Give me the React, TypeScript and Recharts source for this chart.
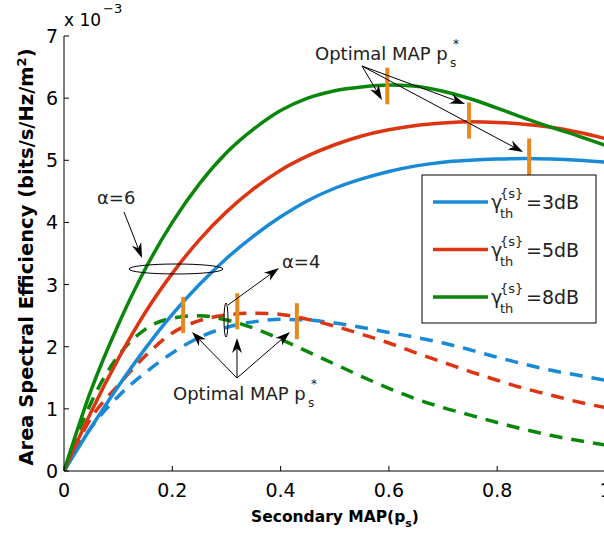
import React from "react";
import { LineChart, Line, XAxis, YAxis, ReferenceLine } from "recharts";

// secondary MAP p_s
const ps = [0, 0.05, 0.1, 0.15, 0.2, 0.25, 0.3, 0.35, 0.4, 0.45, 0.5, 0.55, 0.6, 0.65, 0.7, 0.75, 0.8, 0.85, 0.9, 0.95, 1];

// alpha = 6 (solid), x 1e-3
const solid3dB = [0, 0.7, 1.36, 1.97, 2.52, 3.0, 3.42, 3.78, 4.09, 4.35, 4.55, 4.7, 4.82, 4.91, 4.97, 5.0, 5.02, 5.03, 5.02, 5.0, 4.97];
const solid5dB = [0, 0.95, 1.8, 2.55, 3.18, 3.72, 4.17, 4.54, 4.84, 5.07, 5.25, 5.39, 5.49, 5.56, 5.6, 5.62, 5.61, 5.58, 5.53, 5.45, 5.35];
const solid8dB = [0, 1.3, 2.35, 3.25, 4.0, 4.62, 5.12, 5.5, 5.8, 6.0, 6.12, 6.18, 6.21, 6.19, 6.11, 5.99, 5.84, 5.68, 5.53, 5.39, 5.24];

// alpha = 4 (dashed)
const dash3dB = [0, 0.7, 1.2, 1.58, 1.9, 2.15, 2.31, 2.4, 2.44, 2.43, 2.38, 2.31, 2.23, 2.15, 2.06, 1.95, 1.83, 1.72, 1.62, 1.54, 1.46];
const dash5dB = [0, 0.85, 1.38, 1.85, 2.22, 2.42, 2.51, 2.54, 2.52, 2.44, 2.33, 2.2, 2.06, 1.9, 1.75, 1.6, 1.46, 1.33, 1.22, 1.11, 1.02];
const dash8dB = [0, 1.1, 1.85, 2.28, 2.46, 2.5, 2.43, 2.3, 2.12, 1.92, 1.72, 1.52, 1.33, 1.16, 1.02, 0.9, 0.78, 0.67, 0.57, 0.49, 0.42];

const xTicks = [0, 0.2, 0.4, 0.6, 0.8, 1];
const yTicks = [0, 1, 2, 3, 4, 5, 6, 7];

// optimal p_s markers
const optX = [0.597, 0.748, 0.859, 0.22, 0.32, 0.43];
const optLo = [5.9, 5.35, 4.76, 2.22, 2.28, 2.12];
const optHi = [6.49, 5.93, 5.35, 2.8, 2.86, 2.7];

const legendNames = ["3dB", "5dB", "8dB"];
const colors = ["#1a8ad6", "#dd3512", "#0a870a"];

const rows = ps.map((p, i) => ({
  p,
  s3: solid3dB[i],
  s5: solid5dB[i],
  s8: solid8dB[i],
  d3: dash3dB[i],
  d5: dash5dB[i],
  d8: dash8dB[i],
}));

const FONT = "'DejaVu Sans', sans-serif";

const BottomTick = ({ x, y, payload }: any) => (
  <g>
    <line x1={x} y1={y} x2={x} y2={y - 5} stroke="#000" />
    <text x={x} y={y + 26} textAnchor="middle" fontSize={19} fontFamily={FONT} fill="#000">
      {String(payload.value)}
    </text>
  </g>
);
const TopTick = ({ x, y }: any) => <line x1={x} y1={y} x2={x} y2={y + 5} stroke="#000" />;
const LeftTick = ({ x, y, payload }: any) => (
  <g>
    <line x1={x} y1={y} x2={x + 5} y2={y} stroke="#000" />
    <text x={x - 6} y={y + 7} textAnchor="end" fontSize={19} fontFamily={FONT} fill="#000">
      {String(payload.value)}
    </text>
  </g>
);
const RightTick = ({ x, y }: any) => <line x1={x} y1={y} x2={x - 5} y2={y} stroke="#000" />;

function Arrow({ x1, y1, x2, y2 }: { x1: number; y1: number; x2: number; y2: number }) {
  const dx = x2 - x1;
  const dy = y2 - y1;
  const L = Math.hypot(dx, dy);
  const ux = dx / L;
  const uy = dy / L;
  const len = 15;
  const w = 5;
  const bx = x2 - ux * len;
  const by = y2 - uy * len;
  const nx = x2 - ux * len * 0.7;
  const ny = y2 - uy * len * 0.7;
  const pts = `${x2},${y2} ${bx - uy * w},${by + ux * w} ${nx},${ny} ${bx + uy * w},${by - ux * w}`;
  return (
    <g>
      <line x1={x1} y1={y1} x2={nx} y2={ny} stroke="#000" strokeWidth={1} />
      <polygon points={pts} fill="#000" />
    </g>
  );
}

function OptText({ x, y }: { x: number; y: number }) {
  return (
    <g fontFamily={FONT} fill="#222">
      <text x={x} y={y} fontSize={18}>Optimal MAP p</text>
      <text x={x + 135} y={y + 7} fontSize={12}>s</text>
      <text x={x + 138} y={y - 12} fontSize={12}>*</text>
    </g>
  );
}

export default function App() {
  return (
    <div style={{ position: "fixed", left: 0, top: 0, width: 604, height: 534, overflow: "hidden", background: "#fff" }}>
      <LineChart width={620} height={534} data={rows} margin={{ top: 36, right: 0, bottom: 0, left: 0 }}>
        <XAxis
          dataKey="p"
          type="number"
          domain={[0, 1]}
          ticks={xTicks}
          height={63}
          tickSize={0}
          tickMargin={0}
          tick={<BottomTick />}
          axisLine={{ stroke: "#000" }}
          allowDataOverflow
        />
        <XAxis
          xAxisId="top"
          orientation="top"
          dataKey="p"
          type="number"
          domain={[0, 1]}
          ticks={xTicks}
          height={0}
          tickSize={0}
          tickMargin={0}
          tick={<TopTick />}
          axisLine={{ stroke: "#000" }}
        />
        <YAxis
          type="number"
          domain={[0, 7]}
          ticks={yTicks}
          width={64}
          tickSize={0}
          tickMargin={0}
          tick={<LeftTick />}
          axisLine={{ stroke: "#000" }}
          allowDataOverflow
        />
        <YAxis
          yAxisId="right"
          orientation="right"
          type="number"
          domain={[0, 7]}
          ticks={yTicks}
          width={14.5}
          tickSize={0}
          tickMargin={0}
          tick={<RightTick />}
          axisLine={{ stroke: "#000" }}
        />
        <Line type="monotone" dataKey="d3" stroke={colors[0]} strokeWidth={3.5} strokeDasharray="13 9" dot={false} isAnimationActive={false} />
        <Line type="monotone" dataKey="d5" stroke={colors[1]} strokeWidth={3.5} strokeDasharray="13 9" dot={false} isAnimationActive={false} />
        <Line type="monotone" dataKey="d8" stroke={colors[2]} strokeWidth={3.5} strokeDasharray="13 9" dot={false} isAnimationActive={false} />
        <Line type="monotone" dataKey="s3" stroke={colors[0]} strokeWidth={3.5} dot={false} isAnimationActive={false} />
        <Line type="monotone" dataKey="s5" stroke={colors[1]} strokeWidth={3.5} dot={false} isAnimationActive={false} />
        <Line type="monotone" dataKey="s8" stroke={colors[2]} strokeWidth={3.5} dot={false} isAnimationActive={false} />
        {optX.map((x, i) => (
          <ReferenceLine
            key={i}
            segment={[{ x, y: optLo[i] }, { x, y: optHi[i] }]}
            stroke="#e6891e"
            strokeWidth={4}
          />
        ))}
      </LineChart>

      <svg width={604} height={534} style={{ position: "absolute", left: 0, top: 0, pointerEvents: "none" }}>
        {/* exponent */}
        <g fontFamily={FONT} fill="#000">
          <text x={64} y={26} fontSize={17}>x 10</text>
          <text x={103} y={13} fontSize={13}>−3</text>
        </g>

        {/* axis titles */}
        <text
          transform="translate(33,257) rotate(-90)"
          textAnchor="middle"
          fontFamily={FONT}
          fontWeight="bold"
          fontSize={19.5}
          fill="#000"
        >
          Area Spectral Efficiency (bits/s/Hz/m<tspan dy={-7} fontSize={13}>2</tspan><tspan dy={7}>)</tspan>
        </text>
        <text x={335} y={522} textAnchor="middle" fontFamily={FONT} fontWeight="bold" fontSize={15.5} fill="#000">
          Secondary MAP(p<tspan dy={5} fontSize={11}>s</tspan><tspan dy={-5}>)</tspan>
        </text>

        {/* optimal markers annotations */}
        <OptText x={315} y={60} />
        <Arrow x1={362} y1={66} x2={382} y2={100} />
        <Arrow x1={362} y1={66} x2={465} y2={104} />
        <Arrow x1={362} y1={66} x2={523} y2={152} />

        <OptText x={173} y={400} />
        <Arrow x1={237} y1={378} x2={192} y2={332} />
        <Arrow x1={237} y1={378} x2={237} y2={338} />
        <Arrow x1={237} y1={378} x2={290} y2={332} />

        {/* alpha labels */}
        <text x={97} y={204} fontFamily={FONT} fontSize={18} fill="#222">α=6</text>
        <Arrow x1={124} y1={212} x2={142} y2={258} />
        <ellipse cx={176} cy={269} rx={47} ry={5} fill="none" stroke="#000" strokeWidth={1} />

        <ellipse cx={226} cy={320} rx={2} ry={17} fill="none" stroke="#000" strokeWidth={1} />
        <Arrow x1={228} y1={305} x2={279} y2={268} />
        <text x={282} y={268} fontFamily={FONT} fontSize={18} fill="#222">α=4</text>

        {/* legend */}
        <rect x={422} y={175} width={174} height={148} fill="#fff" stroke="#000" strokeWidth={1} />
        {legendNames.map((name, i) => {
          const ry = 202 + i * 47.5;
          return (
            <g key={name} fontFamily={FONT} fill="#222">
              <line x1={433} y1={ry} x2={488} y2={ry} stroke={colors[i]} strokeWidth={3.5} />
              <text x={491} y={ry + 7} fontSize={19}>γ</text>
              <text x={500} y={ry - 4} fontSize={13}>{"{s}"}</text>
              <text x={500} y={ry + 16} fontSize={13}>th</text>
              <text x={526} y={ry + 7} fontSize={19}>={name}</text>
            </g>
          );
        })}
      </svg>
    </div>
  );
}
